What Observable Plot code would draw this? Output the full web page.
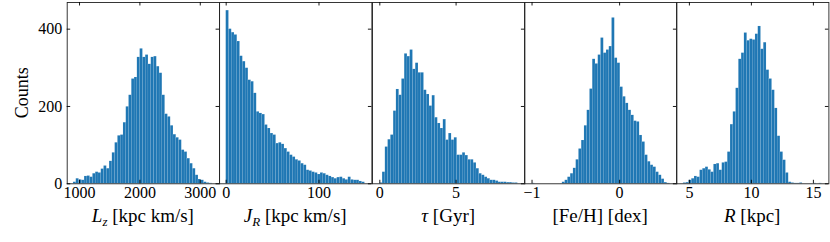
<!DOCTYPE html>
<html><head><meta charset="utf-8">
<script src="https://cdn.jsdelivr.net/npm/d3@7"></script>
<script src="https://cdn.jsdelivr.net/npm/@observablehq/plot@0.6"></script>
<style>
body{margin:0;background:#fff}
#chart{position:relative;width:830px;height:242px;overflow:hidden;background:#fff}
#chart svg{position:absolute;top:0;overflow:visible}
</style></head><body><div id="chart"></div>
<script>
// ---- data ----
const yTicks = [0, 200, 400];
const yMax = 469;

const lzCounts = [4,13,10,9,19,20,17,26,30,28,38,46,39,58,80,106,124,126,158,199,229,271,275,327,349,327,333,309,327,329,303,286,229,180,173,150,127,119,113,87,82,65,52,39,22,11,9,4,2,1];
const lzRange = [900, 3200];
const lzDomain = [796, 3320];
const lzTicks = [1000, 2000, 3000];
const lzLabel = [["L","i"],["z","sub"],[" [kpc km/s]",""]];

const jrCounts = [448,400,391,385,368,330,316,299,268,264,234,186,182,179,152,143,130,126,104,106,102,91,82,74,69,62,59,52,48,35,33,30,28,24,28,26,22,19,16,13,16,17,13,10,17,10,9,9,6,4];
const jrRange = [0, 149.5];
const jrDomain = [-7.2, 157];
const jrTicks = [0, 100];
const jrLabel = [["J","i"],["R","sub"],[" [kpc km/s]",""]];

const tauCounts = [2,30,95,114,126,188,244,229,271,336,329,346,296,312,287,287,242,231,201,228,171,156,143,166,113,130,113,119,74,74,80,73,62,62,54,39,26,22,17,13,9,9,7,4,4,4,3,3,2,2];
const tauRange = [0, 9.05];
const tauDomain = [-0.48, 9.51];
const tauTicks = [0, 5];
const tauLabel = [["τ","i"],[" [Gyr]",""]];

const fehCounts = [1,0,0,0,0,0,0,0,0,0,0,4,9,17,26,40,62,90,112,150,190,245,322,310,333,377,338,346,355,429,325,312,250,225,208,190,177,162,160,125,108,74,57,48,43,30,22,12,3,1];
const fehRange = [-1.0, 0.575];
const fehDomain = [-1.086, 0.654];
const fehTicks = [-1, 0];
const fehLabel = [["[Fe/H] [dex]",""]];

const rCounts = [2,3,9,13,19,17,35,39,43,36,30,50,52,35,54,56,82,153,186,247,322,338,390,370,374,372,387,407,348,365,294,271,242,195,123,82,61,28,4,2,1,1,2,0,0,0,0,1,0,1];
const rRange = [4.52, 15.69];
const rDomain = [3.96, 16.25];
const rTicks = [5, 10, 15];
const rLabel = [["R","i"],[" [kpc]",""]];

const yTitle = "Counts";

// ---- layout ----
const H = 242, TOP = 2, BOTTOM = 183.3, W = 152.4;
const panelLefts = [66.7, 219.1, 371.5, 523.9, 676.3];
const plotH = BOTTOM - TOP;
const FONT = "'Liberation Serif', 'Times New Roman', serif";
const fmt = d => (d < 0 ? "\u2212" + (-d) : String(d));

const panels = [
  {counts: lzCounts, range: lzRange, domain: lzDomain, ticks: lzTicks, label: lzLabel},
  {counts: jrCounts, range: jrRange, domain: jrDomain, ticks: jrTicks, label: jrLabel},
  {counts: tauCounts, range: tauRange, domain: tauDomain, ticks: tauTicks, label: tauLabel},
  {counts: fehCounts, range: fehRange, domain: fehDomain, ticks: fehTicks, label: fehLabel},
  {counts: rCounts, range: rRange, domain: rDomain, ticks: rTicks, label: rLabel}
];

function makeBins(counts, [lo, hi]) {
  const w = (hi - lo) / counts.length;
  return counts.map((c, i) => ({x1: lo + i * w, x2: lo + (i + 1) * w, c}));
}

const chart = document.getElementById("chart");

panels.forEach((p, i) => {
  const ml = i === 0 ? panelLefts[0] : 0;
  const bins = makeBins(p.counts, p.range);
  const marks = [
    Plot.rectY(bins, {x1: "x1", x2: "x2", y: "c", fill: "#1f77b4", stroke: "#ffffff", strokeWidth: 0.3, strokeOpacity: 0.25}),
    Plot.frame({stroke: "#222", strokeWidth: 0.9}),
    Plot.tickX(p.ticks, {x: d => d, insetTop: plotH - 3.5, stroke: "#000", strokeWidth: 0.9}),
    Plot.tickX(p.ticks, {x: d => d, insetBottom: plotH - 3.5, stroke: "#000", strokeWidth: 0.9}),
    Plot.tickY(yTicks, {y: d => d, insetLeft: W - 3.5, stroke: "#000", strokeWidth: 0.9}),
    Plot.axisX({ticks: p.ticks, tickSize: 0, tickPadding: 3, tickFormat: fmt, label: null, fontSize: 16})
  ];
  if (i === 0) {
    marks.push(Plot.tickY(yTicks, {y: d => d, insetRight: W - 3.5, stroke: "#000", strokeWidth: 0.9}));
    marks.push(Plot.axisY({ticks: yTicks, tickSize: 0, tickPadding: 5, tickFormat: fmt, label: null, fontSize: 16}));
  }
  const svg = Plot.plot({
    width: W + ml, height: H,
    marginLeft: ml, marginRight: 0, marginTop: TOP, marginBottom: H - BOTTOM,
    x: {domain: p.domain},
    y: {domain: [0, yMax], ...(i === 0 ? {} : {axis: null})},
    style: {fontFamily: FONT, fontSize: "16px", color: "#000", background: "transparent", overflow: "visible"},
    marks
  });
  svg.style.left = (panelLefts[i] - ml) + "px";
  chart.appendChild(svg);

  const s = d3.select(svg);
  const t = s.append("text")
    .attr("x", ml + W / 2).attr("y", 222)
    .attr("text-anchor", "middle")
    .attr("font-family", FONT).attr("font-size", 19).attr("fill", "#000");
  let shifted = false;
  p.label.forEach(([txt, st]) => {
    const ts = t.append("tspan").text(txt);
    if (st === "i") ts.attr("font-style", "italic");
    if (st === "sub") { ts.attr("font-style", "italic").attr("font-size", 13).attr("dy", 4); shifted = true; }
    else if (shifted) { ts.attr("dy", -4); shifted = false; }
  });
  if (i === 0) {
    s.append("text")
      .attr("transform", `translate(28,${(TOP + BOTTOM) / 2}) rotate(-90)`)
      .attr("text-anchor", "middle")
      .attr("font-family", FONT).attr("font-size", 18).attr("fill", "#000")
      .text(yTitle);
  }
});
</script>
</body></html>
